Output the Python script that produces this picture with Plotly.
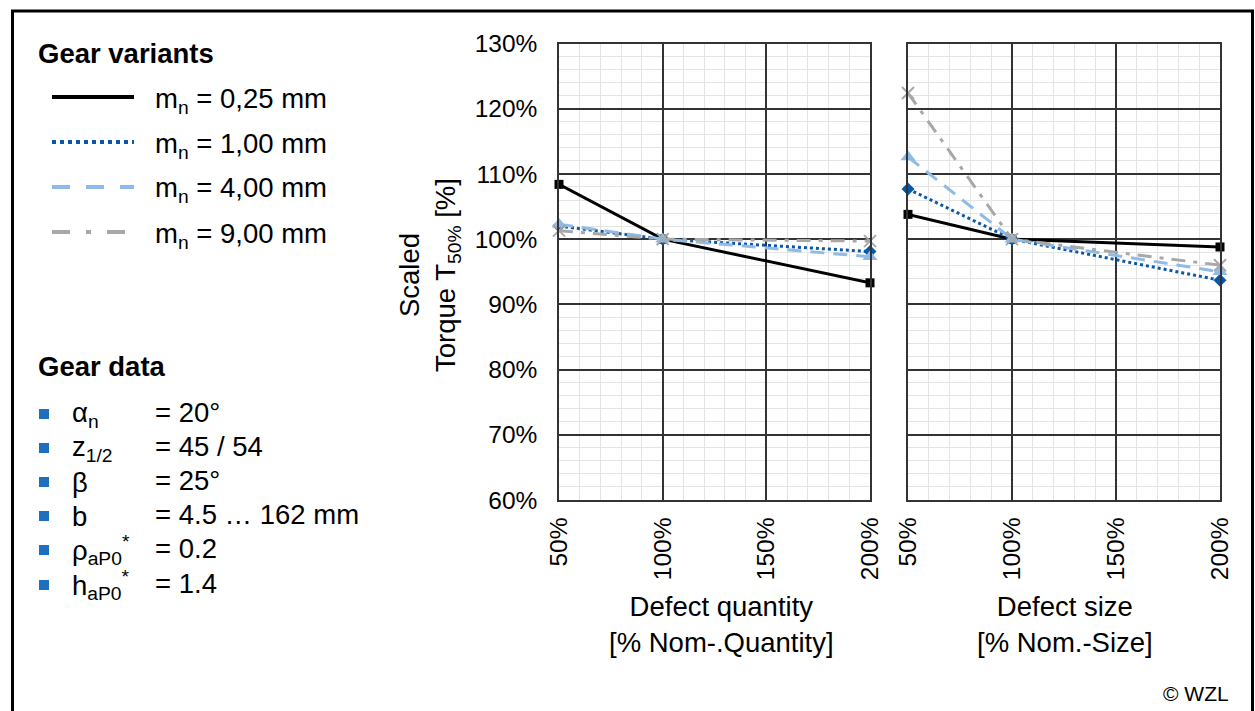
import plotly.graph_objects as go

# ---------------- data ----------------
x_vals = [50, 100, 200]
series_names = ["m<sub>n</sub> = 0,25 mm", "m<sub>n</sub> = 1,00 mm",
                "m<sub>n</sub> = 4,00 mm", "m<sub>n</sub> = 9,00 mm"]
qty_025 = [108.4, 100.0, 93.3]
qty_100 = [102.0, 100.0, 98.1]
qty_400 = [102.3, 100.0, 97.3]
qty_900 = [101.3, 100.0, 99.7]
size_025 = [103.8, 100.0, 98.8]
size_100 = [107.7, 100.0, 93.7]
size_400 = [112.6, 100.0, 95.0]
size_900 = [122.4, 100.0, 96.0]
x_ticks = [50, 100, 150, 200]
y_ticks = [60, 70, 80, 90, 100, 110, 120, 130]
gear_symbols = ["α<sub>n</sub>", "z<sub>1/2</sub>", "β", "b",
                "ρ<sub>aP0</sub><sup>*</sup>", "h<sub>aP0</sub><sup>*</sup>"]
gear_values = ["= 20°", "= 45 / 54", "= 25°", "= 4.5 … 162 mm", "= 0.2", "= 1.4"]

# ---------------- styling ----------------
W, H = 1255, 711
FONT = "Liberation Sans, Arial, sans-serif"
TXT = 27.5
TICK = 24.5
colors = ["#000000", "#0a57a8", "#8fbbe6", "#a8a8a8"]
dashes = ["solid", "dot", "14px,9px", "14px,8px,4px,8px"]
legend_dashes = ["solid", "dot", "18px,16px", "18px,16px,5px,16px"]
markers = [dict(symbol="square", size=9), dict(symbol="diamond", size=10),
           dict(symbol="triangle-up", size=13),
           dict(symbol="x-thin", size=12, line=dict(width=2, color=colors[3]))]

def px(x):
    return x / W

def py(y):
    return 1 - y / H

fig = go.Figure()

qty = [qty_025, qty_100, qty_400, qty_900]
size = [size_025, size_100, size_400, size_900]
for i in range(4):
    for data, xa, ya in [(qty[i], "x", "y"), (size[i], "x2", "y2")]:
        mk = dict(markers[i])
        mk["color"] = colors[i]
        fig.add_trace(go.Scatter(
            x=x_vals, y=data, xaxis=xa, yaxis=ya, mode="lines+markers",
            line=dict(color=colors[i], width=3, dash=dashes[i]),
            marker=mk, cliponaxis=False, showlegend=False, name=series_names[i]))

ydom = [py(500), py(43.5)]
axis_common = dict(
    range=[50, 200], tickvals=x_ticks, ticktext=[f"{v}%" for v in x_ticks],
    tickangle=-90, showgrid=True, gridcolor="#333333", gridwidth=1.5,
    minor=dict(dtick=10, showgrid=True, gridcolor="#e4e4e4", gridwidth=1, tick0=50),
    showline=True, linecolor="#333333", linewidth=1.5, mirror=True,
    zeroline=False, ticks="", ticklabelstandoff=6, automargin=False,
    tickfont=dict(family=FONT, size=TICK, color="#000"),
)
yaxis_common = dict(
    range=[60, 130], tickvals=y_ticks, ticktext=[f"{v}%" for v in y_ticks],
    showgrid=True, gridcolor="#333333", gridwidth=1.5,
    minor=dict(dtick=2, showgrid=True, gridcolor="#e4e4e4", gridwidth=1, tick0=60),
    showline=True, linecolor="#333333", linewidth=1.5, mirror=True,
    zeroline=False, ticks="", domain=ydom, automargin=False,
    tickfont=dict(family=FONT, size=TICK, color="#000"),
)

fig.update_layout(
    width=W, height=H, margin=dict(l=0, r=0, t=0, b=0, pad=0, autoexpand=False),
    paper_bgcolor="white", plot_bgcolor="white",
    font=dict(family=FONT, color="#000"),
    xaxis=dict(domain=[px(559), px(870)], anchor="y", **axis_common),
    xaxis2=dict(domain=[px(908), px(1220)], anchor="y2", **axis_common),
    yaxis=dict(anchor="x", showticklabels=True, ticklabelstandoff=15, **yaxis_common),
    yaxis2=dict(anchor="x2", showticklabels=False, **yaxis_common),
    showlegend=False,
)

shapes = []
annotations = []
# outer frame
shapes.append(dict(type="rect", xref="paper", yref="paper", x0=px(12.5), x1=px(1252.5),
                   y0=py(740), y1=py(11), line=dict(color="black", width=3), layer="below"))

# legend (Gear variants)
annotations.append(dict(text="<b>Gear variants</b>", xref="paper", yref="paper",
                        x=px(36), y=py(53), xanchor="left", yanchor="middle", showarrow=False,
                        font=dict(family=FONT, size=TXT)))
leg_y = [97, 142, 187, 232]
for i in range(4):
    shapes.append(dict(type="line", xref="paper", yref="paper", x0=px(52), x1=px(134),
                       y0=py(leg_y[i]), y1=py(leg_y[i]),
                       line=dict(color=colors[i], width=4, dash=legend_dashes[i])))
    annotations.append(dict(text=series_names[i], xref="paper", yref="paper",
                            x=px(153), y=py(leg_y[i] + 3), xanchor="left", yanchor="middle",
                            showarrow=False, font=dict(family=FONT, size=TXT)))

# gear data
annotations.append(dict(text="<b>Gear data</b>", xref="paper", yref="paper",
                        x=px(36), y=py(366), xanchor="left", yanchor="middle", showarrow=False,
                        font=dict(family=FONT, size=TXT)))
row_y = [414, 448, 482, 516, 550, 585]
for i in range(6):
    shapes.append(dict(type="rect", xref="paper", yref="paper", x0=px(39), x1=px(49),
                       y0=py(row_y[i] + 5), y1=py(row_y[i] - 5),
                       fillcolor="#1f6fbf", line=dict(width=0)))
    annotations.append(dict(text=gear_symbols[i], xref="paper", yref="paper",
                            x=px(70), y=py(row_y[i]), xanchor="left", yanchor="middle",
                            showarrow=False, font=dict(family=FONT, size=TXT)))
    annotations.append(dict(text=gear_values[i], xref="paper", yref="paper",
                            x=px(153), y=py(row_y[i] - 2), xanchor="left", yanchor="middle",
                            showarrow=False, font=dict(family=FONT, size=TXT)))

# axis titles
annotations.append(dict(text="Scaled<br>Torque T<sub>50%</sub> [%]", xref="paper", yref="paper",
                        x=px(429), y=py(275), textangle=-90, xanchor="center", yanchor="middle",
                        showarrow=False, font=dict(family=FONT, size=TXT)))
annotations.append(dict(text="Defect quantity<br>[% Nom-.Quantity]", xref="paper", yref="paper",
                        x=px(721), y=py(624), xanchor="center", yanchor="middle",
                        showarrow=False, font=dict(family=FONT, size=TXT)))
annotations.append(dict(text="Defect size<br>[% Nom.-Size]", xref="paper", yref="paper",
                        x=px(1065), y=py(624), xanchor="center", yanchor="middle",
                        showarrow=False, font=dict(family=FONT, size=TXT)))
annotations.append(dict(text="© WZL", xref="paper", yref="paper",
                        x=px(1231), y=py(693), xanchor="right", yanchor="middle",
                        showarrow=False, font=dict(family=FONT, size=21)))

fig.update_layout(shapes=shapes, annotations=annotations)
fig.write_html("out.html", config={"displayModeBar": False},
               post_script="document.body.style.margin='0';")
